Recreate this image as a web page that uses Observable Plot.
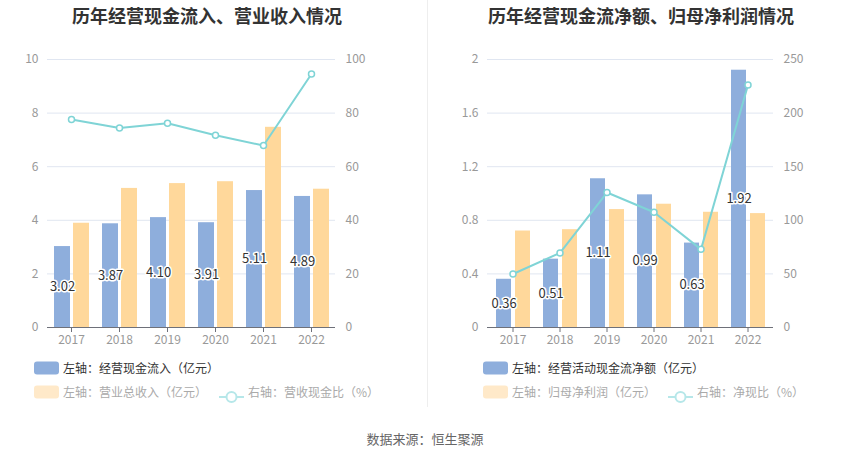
<!DOCTYPE html>
<html><head><meta charset="utf-8">
<script src="https://cdn.jsdelivr.net/npm/d3@7"></script>
<script src="https://cdn.jsdelivr.net/npm/@observablehq/plot@0.6"></script>
<style>
body{margin:0;width:850px;height:459px;background:#fff;position:relative;overflow:hidden;font-family:"Noto Sans CJK SC","Noto Sans",sans-serif;}
.abs{position:absolute;white-space:nowrap}
.title{font-size:18px;font-weight:bold;color:#333;top:4px;line-height:22px;transform:translateX(-50%)}
.lg{font-size:12px;line-height:16px;transform:translateY(-50%)}
.sw{position:absolute;width:25px;height:13px;border-radius:3px;transform:translateY(-50%)}
svg{position:absolute;top:0}
</style></head>
<body>
<script>
const years = ["2017","2018","2019","2020","2021","2022"];
// left chart
const inflow = [3.02,3.87,4.10,3.91,5.11,4.89];
const revenue = [3.89,5.19,5.37,5.44,7.47,5.16];
const cashRatio = [77.6,74.4,76.2,71.7,67.9,94.6];
const leftTicks = [0,2,4,6,8,10];
const leftRightTicks = [0,20,40,60,80,100];
// right chart
const netCash = [0.36,0.51,1.11,0.99,0.63,1.92];
const netProfit = [0.72,0.73,0.88,0.92,0.86,0.85];
const netRatio = [49.9,69.6,125.9,107.5,72.9,226.3];
const rightTicks = [0,0.4,0.8,1.2,1.6,2];
const rightRightTicks = [0,50,100,150,200,250];

const BLUE="#8eaedc", ORANGE="#ffd89b", CYAN="#7fd4d6";

function chart({a,b,r,ticks,rticks,marginLeft,marginRight,fmt}){
  const k = ticks[ticks.length-1]/rticks[rticks.length-1];
  const rows = years.map((y,i)=>({year:y,a:a[i],b:b[i],r:r[i]*k}));
  return Plot.plot({
    width:425, height:350, marginTop:59, marginBottom:23, marginLeft, marginRight,
    style:{fontFamily:"'Noto Sans CJK SC',sans-serif",fontSize:"12px",color:"#999",background:"transparent",overflow:"visible"},
    x:{type:"band",domain:years,padding:0,label:null,axis:null},
    y:{domain:[0,ticks[ticks.length-1]],label:null,axis:null},
    marks:[
      Plot.gridY(ticks,{stroke:"#e0e6f1",strokeOpacity:1}),
      Plot.axisY(ticks,{anchor:"left",tickSize:0,tickPadding:9,label:null,fill:"#999",fontSize:12,tickFormat:fmt}),
      Plot.axisY(rticks.map(v=>v*k),{anchor:"right",tickSize:0,tickPadding:10,label:null,fill:"#999",fontSize:12,tickFormat:d=>String(Math.round(d/k))}),
      Plot.barY(rows,{x:"year",y:"a",fill:BLUE,insetLeft:7,insetRight:25}),
      Plot.barY(rows,{x:"year",y:"b",fill:ORANGE,insetLeft:26,insetRight:6}),
      Plot.ruleY([0],{stroke:"#6e7079"}),
      Plot.axisX(years,{anchor:"bottom",tickSize:5,tickPadding:3,stroke:"#6e7079",fill:"#999",fontSize:12,label:null}),
      Plot.line(rows,{x:"year",y:"r",stroke:CYAN,strokeWidth:2}),
      Plot.dot(rows,{x:"year",y:"r",r:3,fill:"white",stroke:CYAN,strokeWidth:1.5}),
      Plot.text(rows,{x:"year",y:d=>d.a/2,text:d=>d.a.toFixed(2),dx:-9,fill:"#333",stroke:"white",strokeWidth:3,fontSize:13})
    ]
  });
}

const left = chart({a:inflow,b:revenue,r:cashRatio,ticks:leftTicks,rticks:leftRightTicks,marginLeft:47,marginRight:90,fmt:d=>String(d)});
left.style.left="0px";
document.body.appendChild(left);
const right = chart({a:netCash,b:netProfit,r:netRatio,ticks:rightTicks,rticks:rightRightTicks,marginLeft:62,marginRight:77,fmt:d=>d===0||d===2?String(d):d.toFixed(1)});
right.style.left="425px";
document.body.appendChild(right);

function el(html,cls,style){const d=document.createElement("div");d.className=cls;d.innerHTML=html;Object.assign(d.style,style);document.body.appendChild(d);return d;}
el("历年经营现金流入、营业收入情况","abs title",{left:"207px"});
el("历年经营现金流净额、归母净利润情况","abs title",{left:"641px"});
el("","abs",{left:"427px",top:"0px",width:"1px",height:"407px",background:"#eee"});

function lineSwatch(x,y,c){
  el(`<svg width="25" height="14" style="position:static"><line x1="0" y1="7" x2="25" y2="7" stroke="${c}" stroke-width="2"/><circle cx="12.5" cy="7" r="5" fill="white" stroke="${c}" stroke-width="2"/></svg>`,"abs",{left:x+"px",top:(y-7)+"px",height:"14px"});
}
function legend(x0,y1,y2,t1,t2,lx,t3){
  el("","sw",{left:x0+"px",top:y1+"px",background:BLUE});
  el(t1,"abs lg",{left:(x0+29)+"px",top:y1+"px",color:"#333"});
  el("","sw",{left:x0+"px",top:y2+"px",background:"#ffe9c9"});
  el(t2,"abs lg",{left:(x0+29)+"px",top:y2+"px",color:"#aaa"});
  lineSwatch(lx,y2,"#b6e7e9");
  el(t3,"abs lg",{left:(lx+29)+"px",top:y2+"px",color:"#aaa"});
}
legend(34,368,392,"左轴：经营现金流入（亿元）","左轴：营业总收入（亿元）",219,"右轴：营收现金比（%）");
legend(483,368,392,"左轴：经营活动现金流净额（亿元）","左轴：归母净利润（亿元）",668,"右轴：净现比（%）");
el("数据来源：恒生聚源","abs",{left:"425px",top:"438px",transform:"translate(-50%,-50%)",fontSize:"13px",color:"#666"});
</script>
</body></html>
